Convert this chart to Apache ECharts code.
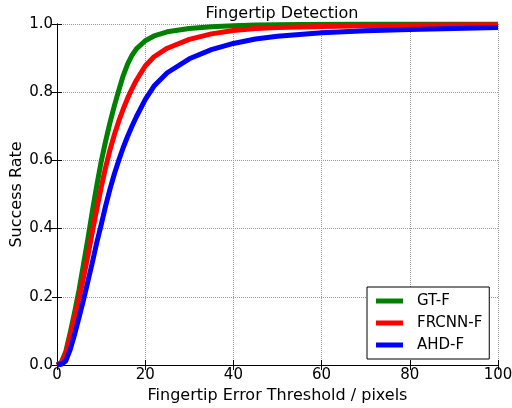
<!DOCTYPE html>
<html>
<head>
<meta charset="utf-8">
<script src="https://cdn.jsdelivr.net/npm/echarts@6/dist/echarts.min.js"></script>
<style>
  html, body { margin: 0; padding: 0; background: #fff; }
  #chart { width: 512px; height: 408px; }
</style>
</head>
<body>
<div id="chart"></div>
<script>
const thresholds = [0, 1, 2, 3, 4, 5, 6, 7, 8, 9, 10, 11, 12, 13, 14, 15, 16, 17, 18, 20, 22, 25, 30, 35, 40, 45, 50, 60, 70, 80, 90, 100]

const gtF = [0, 0.008, 0.04, 0.095, 0.155, 0.22, 0.295, 0.37, 0.45, 0.525, 0.595, 0.655, 0.71, 0.76, 0.805, 0.848, 0.882, 0.908, 0.927, 0.951, 0.965, 0.977, 0.987, 0.992, 0.995, 0.997, 0.998, 0.999, 1.0, 1.0, 1.0, 1.0]
const frcnnF = [0, 0.007, 0.035, 0.085, 0.14, 0.195, 0.255, 0.32, 0.39, 0.455, 0.52, 0.578, 0.63, 0.675, 0.715, 0.75, 0.782, 0.81, 0.835, 0.877, 0.904, 0.929, 0.955, 0.971, 0.981, 0.987, 0.99, 0.993, 0.995, 0.996, 0.997, 0.998]
const ahdF = [0, 0.002, 0.012, 0.045, 0.09, 0.14, 0.19, 0.245, 0.30, 0.358, 0.41, 0.465, 0.515, 0.56, 0.60, 0.637, 0.67, 0.70, 0.728, 0.778, 0.818, 0.857, 0.898, 0.925, 0.943, 0.956, 0.964, 0.974, 0.98, 0.984, 0.987, 0.99]

const seriesNames = ['GT-F', 'FRCNN-F', 'AHD-F']
const seriesColors = ['#008000', '#ff0000', '#0000ff']

const pairs = (ys) => thresholds.map((x, i) => [x, ys[i]])

const font = 'DejaVu Sans'
const chart = echarts.init(document.getElementById('chart'))

const axisCommon = {
  axisLine: { show: true, lineStyle: { color: '#000', width: 1 } },
  axisTick: { show: true, inside: true, length: 5, lineStyle: { color: '#000' } },
  axisLabel: { color: '#000', fontFamily: font, fontSize: 15 }
}

const option = {
  animation: false,
  textStyle: { fontFamily: font },
  title: {
    text: 'Fingertip Detection',
    left: 277,
    textAlign: 'center',
    top: 1,
    textStyle: { fontFamily: font, fontSize: 16, fontWeight: 'normal', color: '#000' }
  },
  grid: { left: 57, right: 14, top: 24, bottom: 43, outerBoundsMode: 'none' },
  legend: {
    data: seriesNames,
    orient: 'vertical',
    left: 367,
    top: 287,
    icon: 'rect',
    itemWidth: 27,
    itemHeight: 5,
    itemGap: 6,
    padding: [6, 7, 6, 9],
    borderColor: '#000',
    borderWidth: 1,
    backgroundColor: '#fff',
    textStyle: { fontFamily: font, fontSize: 15, color: '#000', lineHeight: 16, padding: [0, 0, 0, 9] }
  },
  xAxis: [
    Object.assign({}, axisCommon, {
      type: 'value', min: 0, max: 100, interval: 20,
      name: 'Fingertip Error Threshold / pixels',
      nameLocation: 'middle', nameGap: 23, nameMoveOverlap: false,
      nameTextStyle: { fontFamily: font, fontSize: 16, color: '#000', verticalAlign: 'top' },
      axisLabel: Object.assign({}, axisCommon.axisLabel, { margin: 3 }),
      splitLine: { show: true, lineStyle: { color: '#999', type: 'dotted', width: 1 } }
    }),
    Object.assign({}, axisCommon, {
      type: 'value', min: 0, max: 100, interval: 20, position: 'top',
      axisLabel: { show: false }, splitLine: { show: false }
    })
  ],
  yAxis: [
    Object.assign({}, axisCommon, {
      type: 'value', min: 0, max: 1, interval: 0.2,
      name: 'Success Rate',
      nameLocation: 'middle', nameGap: 32, nameMoveOverlap: false,
      nameTextStyle: { fontFamily: font, fontSize: 16, color: '#000' },
      axisLabel: Object.assign({}, axisCommon.axisLabel, { margin: 4, formatter: v => v.toFixed(1) }),
      splitLine: { show: true, lineStyle: { color: '#999', type: 'dotted', width: 1 } }
    }),
    Object.assign({}, axisCommon, {
      type: 'value', min: 0, max: 1, interval: 0.2, position: 'right',
      axisLabel: { show: false }, splitLine: { show: false }
    })
  ],
  series: [gtF, frcnnF, ahdF].map((ys, i) => ({
    name: seriesNames[i],
    type: 'line',
    data: pairs(ys),
    smooth: false,
    showSymbol: false,
    symbol: 'none',
    color: seriesColors[i],
    lineStyle: { color: seriesColors[i], width: 5, join: 'round' },
    itemStyle: { color: seriesColors[i] },
    z: 2 + i
  }))
}

chart.setOption(option)
</script>
</body>
</html>
